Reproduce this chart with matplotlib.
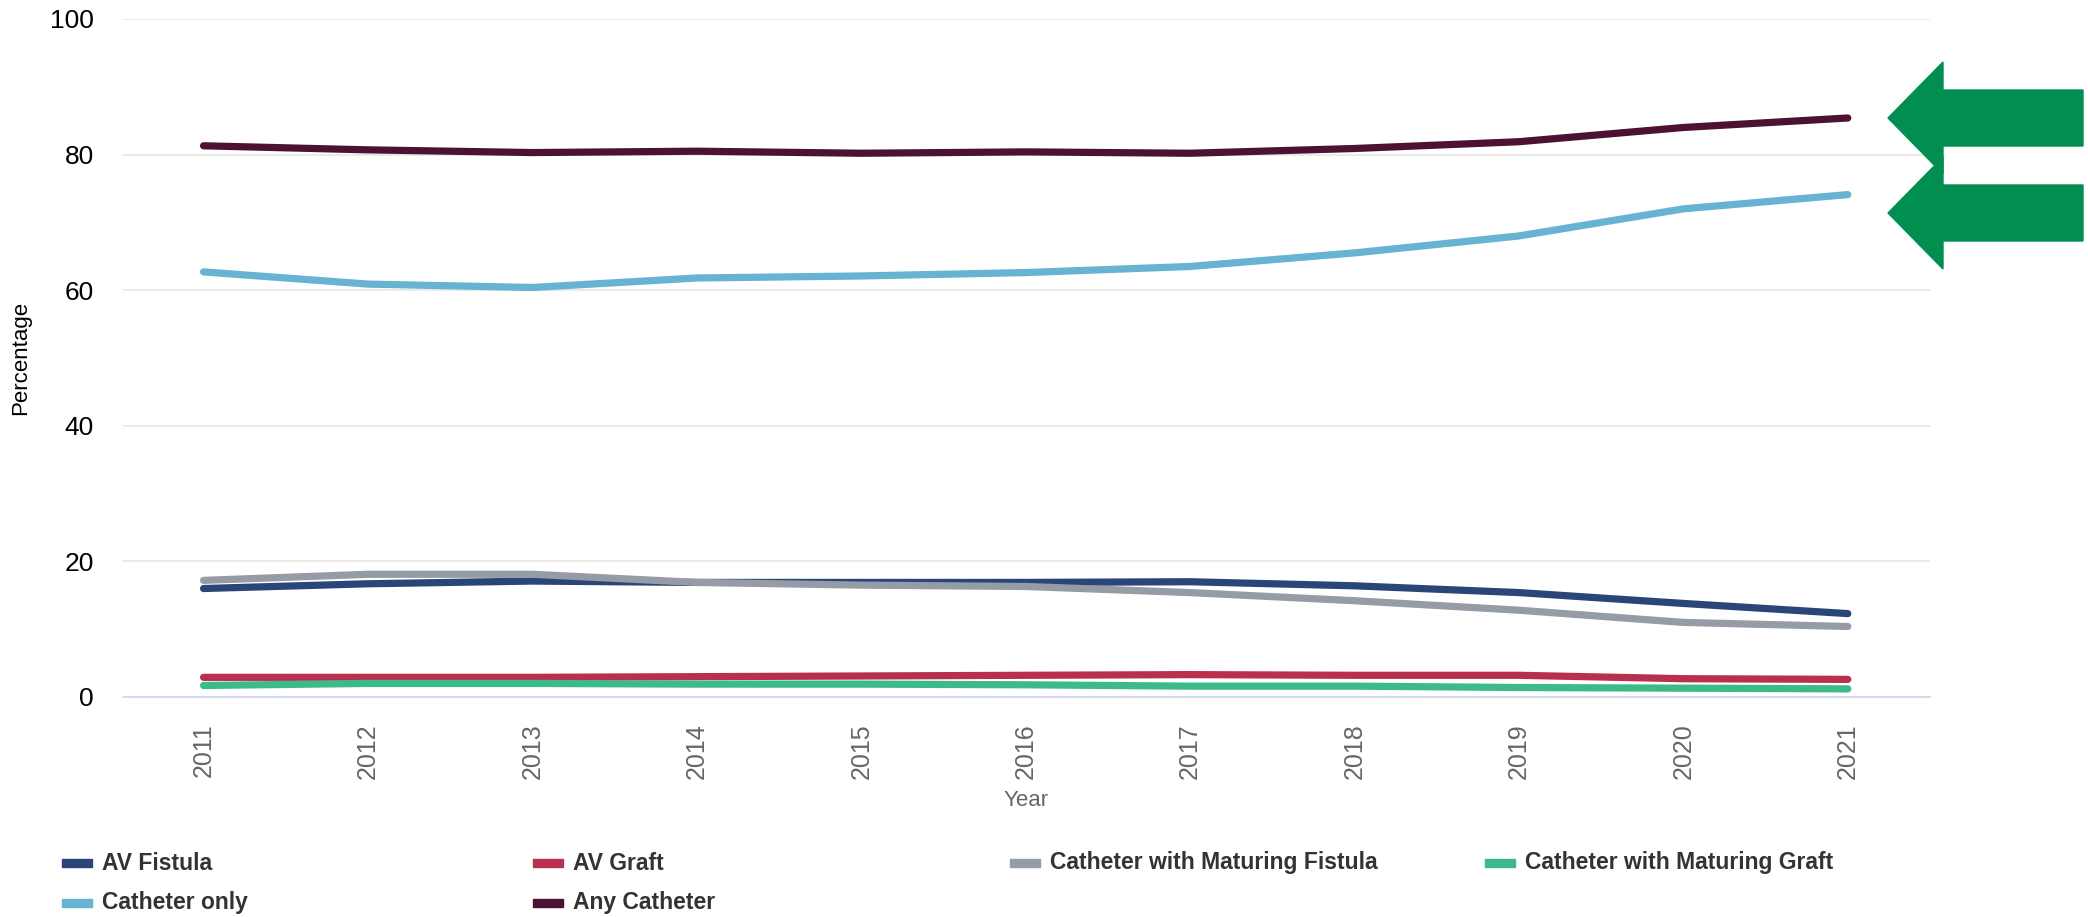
import numpy as np
import matplotlib
matplotlib.use("Agg")
import matplotlib.pyplot as plt
from matplotlib.patches import Polygon, Rectangle

plt.rcParams['font.family'] = ['Liberation Sans', 'DejaVu Sans']

years = [2011, 2012, 2013, 2014, 2015, 2016, 2017, 2018, 2019, 2020, 2021]

av_fistula = [16.0, 16.7, 17.1, 16.9, 16.9, 16.9, 17.0, 16.4, 15.4, 13.8, 12.3]
av_graft = [2.9, 2.9, 2.9, 3.0, 3.1, 3.2, 3.3, 3.2, 3.2, 2.7, 2.6]
cath_mat_fistula = [17.2, 18.1, 18.1, 16.9, 16.5, 16.3, 15.4, 14.2, 12.8, 11.0, 10.4]
cath_mat_graft = [1.7, 2.0, 2.0, 1.9, 1.9, 1.8, 1.6, 1.6, 1.4, 1.3, 1.2]
catheter_only = [62.7, 60.9, 60.4, 61.8, 62.1, 62.6, 63.5, 65.5, 68.0, 72.0, 74.1]
any_catheter = [81.3, 80.7, 80.3, 80.5, 80.2, 80.4, 80.2, 80.9, 81.9, 84.0, 85.4]

series_names = ["AV Fistula", "AV Graft", "Catheter with Maturing Fistula",
                "Catheter with Maturing Graft", "Catheter only", "Any Catheter"]
series_values = [av_fistula, av_graft, cath_mat_fistula, cath_mat_graft,
                 catheter_only, any_catheter]
colors = ["#2a4679", "#b8304d", "#959ca6", "#3dba8a", "#66b3d2", "#4d1233"]

W, H = 2088, 917
fig = plt.figure(figsize=(W / 100, H / 100), dpi=100)
ax = fig.add_axes([123 / W, 1 - 697 / H, (1930 - 123) / W, (697 - 19) / H])

x = np.arange(len(years))
for vals, col in zip(series_values, colors):
    ax.plot(x, vals, color=col, lw=5.2, solid_capstyle='round',
            solid_joinstyle='round')

ax.set_xlim(-0.49, len(years) - 0.5)
ax.set_ylim(0, 100)
ax.set_yticks([0, 20, 40, 60, 80, 100])
ax.set_xticks(x)
ax.set_xticklabels([str(y) for y in years], rotation=90, color="#666666",
                   fontsize=18)
ax.tick_params(axis='y', labelsize=19, length=0, pad=21, labelcolor="black")
ax.tick_params(axis='x', length=0, pad=19)
for lbl in ax.get_xticklabels():
    lbl.set_va('top')

ax.grid(axis='y', color="#e6e6e6", lw=1.2)
ax.set_axisbelow(True)
for s in ["top", "right", "left"]:
    ax.spines[s].set_visible(False)
ax.spines["bottom"].set_color("#ccd6eb")
ax.spines["bottom"].set_linewidth(1.2)

ax.set_ylabel("Percentage", fontsize=16, color="black")
ax.yaxis.set_label_coords(-0.051, 0.5)
ax.set_xlabel("Year", fontsize=16, color="#666666")
ax.xaxis.set_label_coords(0.5, -0.137)

# legend laid out by hand (Highcharts style)
col_x = [62, 533, 1010, 1485]
row_y = [863, 903]
for i, (name, col) in enumerate(zip(series_names, colors)):
    cx = col_x[i % 4]
    ry = row_y[i // 4]
    fig.patches.append(Rectangle((cx / W, 1 - (ry + 4) / H), 30 / W, 8 / H,
                                 transform=fig.transFigure, color=col))
    fig.text((cx + 40) / W, 1 - ry / H, name, fontsize=16.5, fontweight='bold',
             color="#333333", va='center', ha='left')

# green arrows pointing at the catheter lines
def arrow(tip_y):
    pts = [(1888, tip_y), (1943, tip_y - 56), (1943, tip_y - 28),
           (2083, tip_y - 28), (2083, tip_y + 28), (1943, tip_y + 28),
           (1943, tip_y + 56)]
    return Polygon([(px / W, 1 - py / H) for px, py in pts], closed=True,
                   transform=fig.transFigure, color="#008f50", zorder=5)

fig.patches.append(arrow(118))
fig.patches.append(arrow(213))

fig.savefig("out.png", dpi=100)
